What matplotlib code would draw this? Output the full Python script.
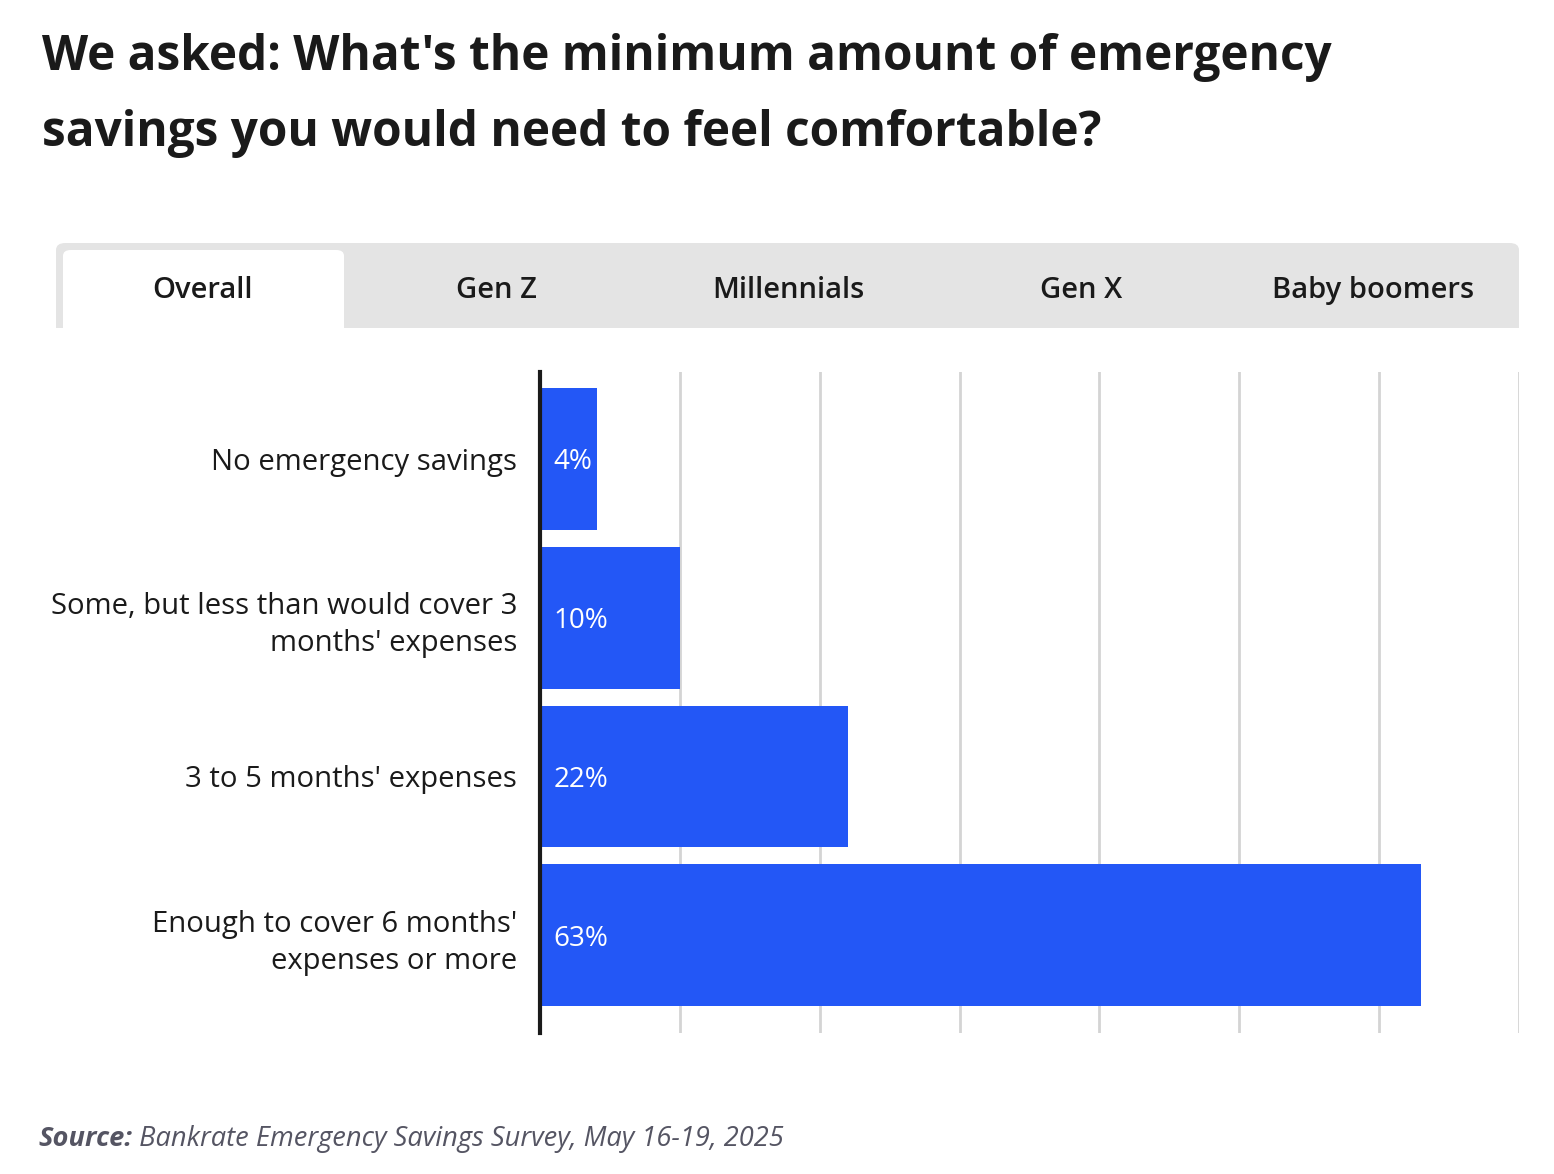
import matplotlib
matplotlib.use("Agg")
import matplotlib.pyplot as plt
from matplotlib.patches import FancyBboxPatch, Rectangle

categories = ["No emergency savings",
              "Some, but less than would cover 3\nmonths' expenses",
              "3 to 5 months' expenses",
              "Enough to cover 6 months'\nexpenses or more"]
values = [4.1, 10, 22, 63]
value_labels = ["4%", "10%", "22%", "63%"]
tabs = ["Overall", "Gen Z", "Millennials", "Gen X", "Baby boomers"]
title_lines = ["We asked: What's the minimum amount of emergency",
               "savings you would need to feel comfortable?"]
source_bold = "Source:"
source_rest = " Bankrate Emergency Savings Survey, May 16-19, 2025"

FONT = ["Open Sans", "DejaVu Sans"]
plt.rcParams['font.family'] = FONT

W, H = 1554, 1174
fig = plt.figure(figsize=(W/100, H/100), dpi=100)
fig.canvas.draw()
R = fig.canvas.get_renderer()

def fx(px): return px / W
def fy(py): return 1 - py / H

def fit(t, target):
    w = t.get_window_extent(R).width
    t.set_fontsize(t.get_fontsize() * target / w)

# Title
t = fig.text(fx(42), fy(58), title_lines[0], fontsize=30, fontweight='bold',
             color='#1a1a1a', va='center', ha='left')
fit(t, 1291)
tsize = t.get_fontsize()
fig.text(fx(42), fy(134), title_lines[1], fontsize=tsize, fontweight='bold',
         color='#1a1a1a', va='center', ha='left')

# Tabs bar
fig.add_artist(FancyBboxPatch((fx(56), fy(328)), fx(1519) - fx(56), fy(243) - fy(328),
                              boxstyle="round,pad=0,rounding_size=0.006",
                              transform=fig.transFigure, facecolor='#e4e4e4', edgecolor='none'))
fig.add_artist(Rectangle((fx(56), fy(328)), fx(1519) - fx(56), (fy(300) - fy(328)),
                         transform=fig.transFigure, facecolor='#e4e4e4', edgecolor='none'))
fig.add_artist(FancyBboxPatch((fx(63), fy(328)), fx(344) - fx(63), fy(250) - fy(328),
                              boxstyle="round,pad=0,rounding_size=0.005",
                              transform=fig.transFigure, facecolor='white', edgecolor='none'))
fig.add_artist(Rectangle((fx(63), fy(328)), fx(344) - fx(63), fy(300) - fy(328),
                         transform=fig.transFigure, facecolor='white', edgecolor='none'))
tab_centers = [203, 496, 788, 1081, 1373]
tt = fig.text(0, 0, tabs[-1], fontsize=20, fontweight='semibold')
fit(tt, 201)
tabsize = tt.get_fontsize()
tt.remove()
for lab, cx in zip(tabs, tab_centers):
    fig.text(fx(cx), fy(287), lab, fontsize=tabsize, fontweight='semibold',
             color='#1a1a1a', ha='center', va='center_baseline')

# Label size from widest single-line label
tl = fig.text(0, 0, categories[0], fontsize=20)
fit(tl, 304)
labsize = tl.get_fontsize()
tl.remove()

# Axes
ax = fig.add_axes([fx(540), fy(1033), fx(1519) - fx(540), fy(372) - fy(1033)])
ypos = list(range(len(categories)))
ax.barh(ypos, values, height=0.893, color='#2357f6', zorder=3)
ax.set_xlim(0, 70)
ax.set_ylim(3 + 0.616, -0.547)
ax.set_xticks(range(10, 71, 10))
ax.grid(axis='x', color='#d4d4d4', linewidth=2, zorder=0)
ax.tick_params(axis='x', length=0, labelbottom=False)
ax.tick_params(axis='y', length=0, pad=16.5)
ax.set_yticks(ypos)
ax.set_yticklabels(categories, fontsize=labsize, color='#1a1a1a', linespacing=1.38)
for lbl in ax.get_yticklabels():
    lbl.set_horizontalalignment('right')
    lbl.set_multialignment('right')
for s in ['top', 'right', 'bottom']:
    ax.spines[s].set_visible(False)
ax.spines['left'].set_linewidth(3)
ax.spines['left'].set_color('#1a1a1a')
ax.spines['left'].set_zorder(5)
tv = fig.text(0, 0, "63%", fontsize=18)
fit(tv, 55)
valsize = tv.get_fontsize()
tv.remove()
for y, lab in zip(ypos, value_labels):
    ax.text(0.95, y, lab, color='white', fontsize=valsize, va='center_baseline',
            ha='left', zorder=4)

# Source
t1 = fig.text(fx(38), fy(1139), source_bold, fontsize=17, fontweight='bold',
              style='italic', color='#555563', va='center', ha='left')
t2 = fig.text(0, fy(1139), source_rest, fontsize=17, style='italic',
              color='#555563', va='center', ha='left')
w_total = t1.get_window_extent(R).width + t2.get_window_extent(R).width
scale = 747 / w_total
t1.set_fontsize(17 * scale)
t2.set_fontsize(17 * scale)
bb = t1.get_window_extent(R)
t2.set_x(bb.x1 / W)

fig.savefig("out.png", dpi=100)
